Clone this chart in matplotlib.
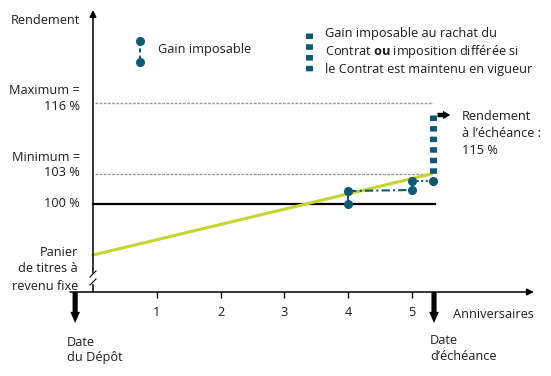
import numpy as np
import matplotlib.pyplot as plt

plt.rcParams['font.family'] = ['Open Sans', 'DejaVu Sans']
plt.rcParams['mathtext.fontset'] = 'custom'
plt.rcParams['mathtext.rm'] = 'Open Sans'
plt.rcParams['mathtext.bf'] = 'Open Sans:bold'

# données (schéma)
anniversaires = [1, 2, 3, 4, 5]
x_depot = -0.28
x_echeance = 5.33
base = 100
minimum = 103
maximum = 116
rendement_final = 115
panier_x = [0, 5.3]
panier_y = [94.9, 103]
# gain imposable : points et segments
gain_x = [4, 4, 5, 5, x_echeance]
gain_y = [100, 101.3, 101.4, 102.3, 102.3]

BLEU = '#0f5a73'
VERT = '#c3d530'
GRIS = '#9b9b9b'
TXT = '#1e1e1e'
FS = 9.2

# échelle verticale schématique (par morceaux)
R = [70, 100, 103, 115, 116, 160]
Hh = [-212, 88, 118, 177, 189, 409]
def fwd(r):
    return np.interp(r, R, Hh)
def inv(h):
    return np.interp(h, Hh, R)

W, H = 551, 376
def fx(px):
    return px / W
def fy(py):
    return 1 - py / H

fig = plt.figure(figsize=(W / 100, H / 100), dpi=100)
ax = fig.add_axes([0, 0, 1, 1])
ax.set_yscale('function', functions=(fwd, inv))
ax.set_xlim(-93 / 63.8, 458 / 63.8)
ax.set_ylim(inv(-84), inv(292))
ax.axis('off')

y_axe = float(inv(0))

# axes avec flèches
ax.annotate('', xy=(6.91, y_axe), xytext=(-0.36, y_axe),
            arrowprops=dict(arrowstyle='-|>', color='k', lw=1.1, mutation_scale=10, shrinkA=0, shrinkB=0))
ax.annotate('', xy=(0, float(inv(282))), xytext=(0, y_axe),
            arrowprops=dict(arrowstyle='-|>', color='k', lw=1.1, mutation_scale=10, shrinkA=0, shrinkB=0))
# coupure de l'axe
ax.plot([fx(93)] * 2, [fy(274.5), fy(281.5)], color='white', lw=2.5, transform=ax.transAxes, zorder=3)
ax.plot([fx(90), fx(96)], [fy(277), fy(271)], color='k', lw=0.8, transform=ax.transAxes, zorder=4)
ax.plot([fx(90), fx(96)], [fy(285), fy(279)], color='k', lw=0.8, transform=ax.transAxes, zorder=4)

# graduations
ax.plot(anniversaires, [y_axe] * len(anniversaires), ls='none', marker=3, ms=4.5, mew=1, color='k')
for a in anniversaires:
    ax.annotate(str(a), (a, y_axe), xytext=(0, -15.1), textcoords='offset points',
                ha='center', va='center', fontsize=FS, color=TXT)

# niveaux
ax.plot([0.03, x_echeance], [maximum] * 2, color=GRIS, lw=1, ls=(0, (2, 1)))
ax.plot([0.03, 5.3], [minimum] * 2, color=GRIS, lw=1, ls=(0, (2, 1)))
ax.plot([0, 5.36], [base] * 2, color='k', lw=1.6)

# panier de titres à revenu fixe
ax.plot(panier_x, panier_y, color=VERT, lw=2.2)

# gain imposable
ax.plot(gain_x[0:2], gain_y[0:2], color=BLEU, lw=1.5)
ax.plot(gain_x[1:3], gain_y[1:3], color=BLEU, lw=1.5, ls=(0, (4, 1.5, 1, 1.5)))
ax.plot(gain_x[2:4], gain_y[2:4], color=BLEU, lw=1.5)
ax.plot(gain_x[3:5], gain_y[3:5], color=BLEU, lw=1.5, ls=(0, (1, 1.2)))
ax.plot(gain_x, gain_y, 'o', color=BLEU, ms=5.5)
ax.plot([x_echeance] * 2, [rendement_final, minimum], color=BLEU, lw=5,
        ls=(0, (0.8, 0.72)), dash_capstyle='butt')

# flèches
ax.annotate('', xy=(5.6, rendement_final), xytext=(5.40, rendement_final),
            arrowprops=dict(arrowstyle='simple,head_width=0.75,head_length=0.65,tail_width=0.4',
                            color='k', lw=0, shrinkA=0, shrinkB=0, mutation_scale=8))
for xa in [x_depot, x_echeance + 0.015]:
    ax.annotate('', xy=(xa, float(inv(-31))), xytext=(xa, y_axe),
                arrowprops=dict(arrowstyle='simple,head_width=0.7,head_length=0.8,tail_width=0.37',
                                color='k', lw=0, shrinkA=0, shrinkB=0, mutation_scale=10))

# légendes
ax.plot([fx(140)] * 2, [fy(41), fy(62)], transform=ax.transAxes, color=BLEU, lw=1.5,
        ls=(0, (2, 1.5)), marker='o', ms=5.5)
fig.text(fx(158), fy(50), 'Gain imposable', va='center', fontsize=FS, color=TXT)
ax.plot([fx(308.5)] * 2, [fy(32.5), fy(70.5)], transform=ax.transAxes, color=BLEU, lw=5,
        ls=(0, (0.8, 0.75)), dash_capstyle='butt')
fig.text(fx(325), fy(34), 'Gain imposable au rachat du', va='center', fontsize=FS, color=TXT)
fig.text(fx(325), fy(52), r'Contrat $\mathbf{ou}$ imposition différée si', va='center', fontsize=FS, color=TXT)
fig.text(fx(325), fy(69), 'le Contrat est maintenu en vigueur', va='center', fontsize=FS, color=TXT)

# textes
def txt(x, y, s, ha='left'):
    fig.text(fx(x), fy(y), s, ha=ha, va='center', fontsize=FS, color=TXT)

txt(80, 20, 'Rendement', 'right')
txt(80, 90, 'Maximum =', 'right')
txt(80, 106, f'{maximum} %', 'right')
txt(80, 157, 'Minimum =', 'right')
txt(80, 173, f'{minimum} %', 'right')
txt(80, 204, f'{base} %', 'right')
txt(78, 252, 'Panier', 'right')
txt(78, 269, 'de titres à', 'right')
txt(78, 286, 'revenu fixe', 'right')
txt(67, 342, 'Date')
txt(67, 357, 'du Dépôt')
txt(430, 340, 'Date')
txt(430, 357, 'd’échéance')
txt(453, 315, 'Anniversaires')
txt(462, 117, 'Rendement')
txt(462, 133, 'à l’échéance :')
txt(462, 150, f'{rendement_final} %')

fig.savefig('out.png', dpi=100)
